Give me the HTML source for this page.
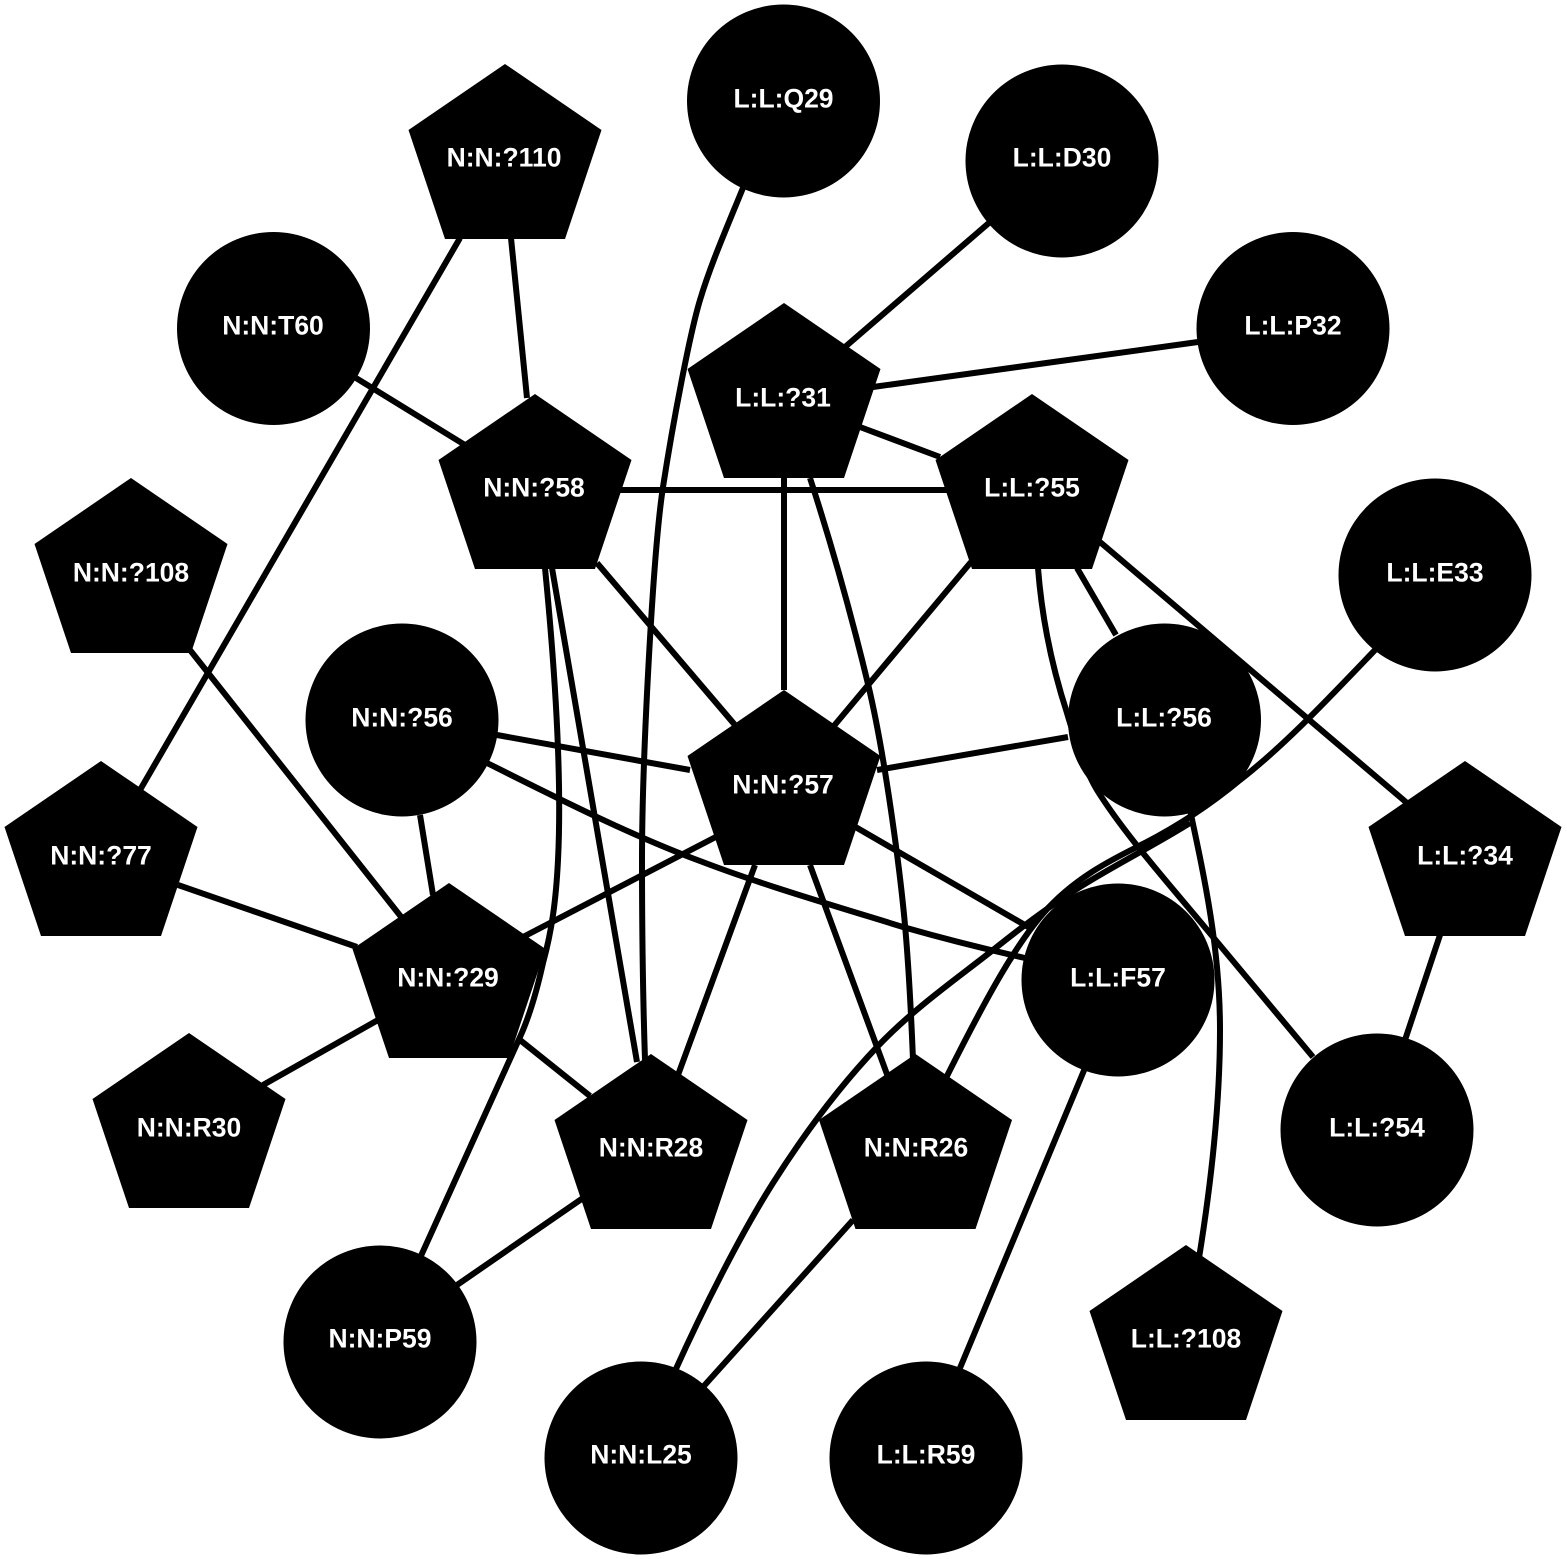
<!DOCTYPE html>
<html><head><meta charset="utf-8"><style>html,body{margin:0;padding:0;background:#fff}svg{display:block}text{font-family:"Liberation Sans",Arial,sans-serif;font-weight:bold;font-size:26.5px;fill:#fff;text-anchor:middle}</style></head>
<body>
<svg width="1567" height="1559" viewBox="0 0 1567 1559" xmlns="http://www.w3.org/2000/svg">
<rect width="1567" height="1559" fill="#fff"/>
<defs><polygon id="p" points="0,0 96.5,66 60,175 -60,175 -96.5,66"/></defs>
<g fill="none" stroke="#000" stroke-width="6">
<path d="M745,183 C725,232 710.500,265 700,300 C690,333 673,422 663,487 C653,552 642,760 642,860 C642,930 643,1000 645,1060"/>
<path d="M810,478 C835,555 855,630 868,684 C885,755 900,870 905,925 C909,970 911,1010 913,1060"/>
<path d="M545,568 C555,670 562,780 558,860 C556,900 552,930 543,963 C537,990 530,1015 520,1037 L420,1258"/>
<path d="M1038,568 C1042,620 1053,670 1067,713 C1075,740 1085,770 1097,790 C1125,835 1170,885 1213,937 L1313,1057"/>
<path d="M1190,810 C1205,880 1220,950 1220,1030 C1220,1110 1210,1190 1199,1258"/>
<path d="M1375,650 C1330,697 1285,745 1240,780 C1210,805 1175,828 1137,847 C1105,863 1078,878 1053,903 C1020,935 985,1000 946,1078"/>
<path d="M675,1371 C702,1311 740,1235 773,1183 C806,1131 840,1086 877,1047 C914,1008 959,977 993,950 C1027,923 1047,908 1080,887 C1113,866 1155,845 1190,823"/>
<path d="M487,763 C555,797 630,835 700,861 C760,884 825,903 903,927 C945,939 985,949 1025,958"/>
<path d="M990,222L845,347M1198,342L873,387M860,427L940,457M784,478L784,690M356,378L465,445M511,238L527,398M460,238L140,790M620,490L948,490M597,563L735,725M552,568L637,1062M971,562L833,727M1077,568L1116,635M1100,542L1407,803M190,650L402,918M497,735L690,770M420,815L433,895M1068,737L877,770M852,825L1030,928M755,865L678,1075M810,865L888,1077M735,827L523,937M178,885L357,947M263,1085L378,1020M520,1040L590,1096M583,1198L457,1285M853,1220L703,1387M1085,1068L960,1368M1440,935L1405,1040"/>
</g>
<g fill="#000">
<circle cx="783.500" cy="101" r="96.500"/>
<circle cx="1062" cy="161" r="96.500"/>
<circle cx="1293" cy="328.500" r="96.500"/>
<circle cx="273.500" cy="328.500" r="96.500"/>
<circle cx="1435" cy="575" r="96.500"/>
<circle cx="402" cy="720" r="96.500"/>
<circle cx="1164.500" cy="720" r="96.500"/>
<circle cx="1118" cy="980" r="96.500"/>
<circle cx="1377" cy="1130" r="96.500"/>
<circle cx="380" cy="1342" r="96.500"/>
<circle cx="641" cy="1458" r="96.500"/>
<circle cx="926" cy="1458" r="96.500"/>
<use href="#p" x="505" y="64"/>
<use href="#p" x="784" y="303"/>
<use href="#p" x="535" y="394"/>
<use href="#p" x="1032" y="394"/>
<use href="#p" x="131" y="478"/>
<use href="#p" x="784" y="690"/>
<use href="#p" x="1465" y="761"/>
<use href="#p" x="101" y="761"/>
<use href="#p" x="449" y="883"/>
<use href="#p" x="189" y="1033"/>
<use href="#p" x="651" y="1054"/>
<use href="#p" x="915.500" y="1054"/>
<use href="#p" x="1186" y="1245"/>
</g>
<g transform="translate(0,-0.500)">
<text x="783.500" y="108">L:L:Q29</text>
<text x="1062" y="167">L:L:D30</text>
<text x="1293" y="335">L:L:P32</text>
<text x="273" y="335">N:N:T60</text>
<text x="1435" y="582">L:L:E33</text>
<text x="402" y="727">N:N:?56</text>
<text x="1164" y="727">L:L:?56</text>
<text x="1118" y="987">L:L:F57</text>
<text x="1377" y="1137">L:L:?54</text>
<text x="380" y="1348">N:N:P59</text>
<text x="641" y="1464">N:N:L25</text>
<text x="926" y="1464">L:L:R59</text>
<text x="504" y="167">N:N:?110</text>
<text x="783" y="407">L:L:?31</text>
<text x="534" y="497">N:N:?58</text>
<text x="1032" y="497">L:L:?55</text>
<text x="131" y="582">N:N:?108</text>
<text x="783" y="794">N:N:?57</text>
<text x="1465" y="865">L:L:?34</text>
<text x="101" y="865">N:N:?77</text>
<text x="448" y="987">N:N:?29</text>
<text x="189" y="1137">N:N:R30</text>
<text x="651" y="1157">N:N:R28</text>
<text x="916" y="1157">N:N:R26</text>
<text x="1186" y="1348">L:L:?108</text>
</g>
</svg>
</body></html>
